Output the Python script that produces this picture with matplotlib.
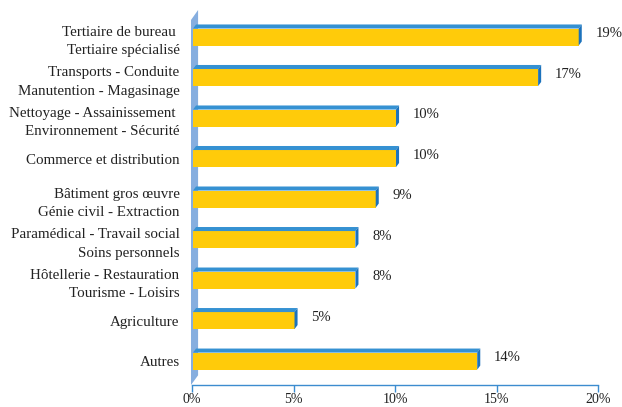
import matplotlib
matplotlib.use("Agg")
import matplotlib.pyplot as plt
from matplotlib.patches import Polygon
import numpy as np

categories = [
    "Tertiaire de bureau \nTertiaire spécialisé",
    "Transports - Conduite\nManutention - Magasinage",
    "Nettoyage - Assainissement \nEnvironnement - Sécurité",
    "Commerce et distribution",
    "Bâtiment gros œuvre\nGénie civil - Extraction",
    "Paramédical - Travail social\nSoins personnels",
    "Hôtellerie - Restauration\nTourisme - Loisirs",
    "Agriculture",
    "Autres",
]
values = [19, 17, 10, 10, 9, 8, 8, 5, 14]
xticks = [0, 5, 10, 15, 20]
xticklabels = ["0%", "5%", "10%", "15%", "20%"]

plt.rcParams['font.family'] = ['Liberation Serif', 'DejaVu Serif']

fig = plt.figure(figsize=(6.22, 4.07), dpi=100)
ax = fig.add_axes([192/622, 22/407, (598-192)/622, (385-10)/407])

yellow = "#FFCB0A"
top_blue = "#3591D2"
side_blue = "#1C72BC"
wall_blue = "#86AEDF"
axis_blue = "#3C8CCF"
txt = "#222222"

ax.set_xlim(0, 20)
ax.set_ylim(8.59, -0.667)

h = 0.42
dx = 0.15
dy = 0.10

# wall
wx = 0.3
wall = Polygon([(-0.05, 8.59), (-0.05, -0.42), (wx, -0.667), (wx, 8.35)],
               closed=True, facecolor=wall_blue, edgecolor="none", zorder=1, clip_on=False)
ax.add_patch(wall)

ys = np.arange(len(values))
ax.barh(ys, values, height=h, color=yellow, zorder=3, left=0.05)
for y, v in zip(ys, values):
    x0, x1 = 0.05, 0.05 + v
    ytop = y - h/2
    ybot = y + h/2
    top = Polygon([(x0, ytop), (x0 + dx, ytop - dy), (x1 + dx, ytop - dy), (x1, ytop)],
                  closed=True, facecolor=top_blue, edgecolor="none", zorder=3)
    side = Polygon([(x1, ytop), (x1 + dx, ytop - dy), (x1 + dx, ybot - dy), (x1, ybot)],
                   closed=True, facecolor=side_blue, edgecolor="none", zorder=3)
    ax.add_patch(top)
    ax.add_patch(side)
    ax.annotate(f"{v}%", xy=(x1 + dx, y - 0.08), xytext=(10, 0), textcoords="offset points",
                ha="left", va="center", fontsize=10.5, color=txt, zorder=4)

ax.set_yticks(ys)
ax.set_yticklabels(categories, fontsize=10.8, color=txt, ha="right", linespacing=1.55)
ax.tick_params(axis="y", length=0, pad=9)

ax.set_xticks(xticks)
ax.set_xticklabels(xticklabels, fontsize=10, color=txt)
ax.tick_params(axis="x", length=5, width=1, color=axis_blue, pad=1, direction="out")

for s in ["top", "right", "left"]:
    ax.spines[s].set_visible(False)
ax.spines["bottom"].set_color(axis_blue)
ax.spines["bottom"].set_linewidth(1)
ax.set_facecolor("none")

fig.savefig("out.png", dpi=100)
